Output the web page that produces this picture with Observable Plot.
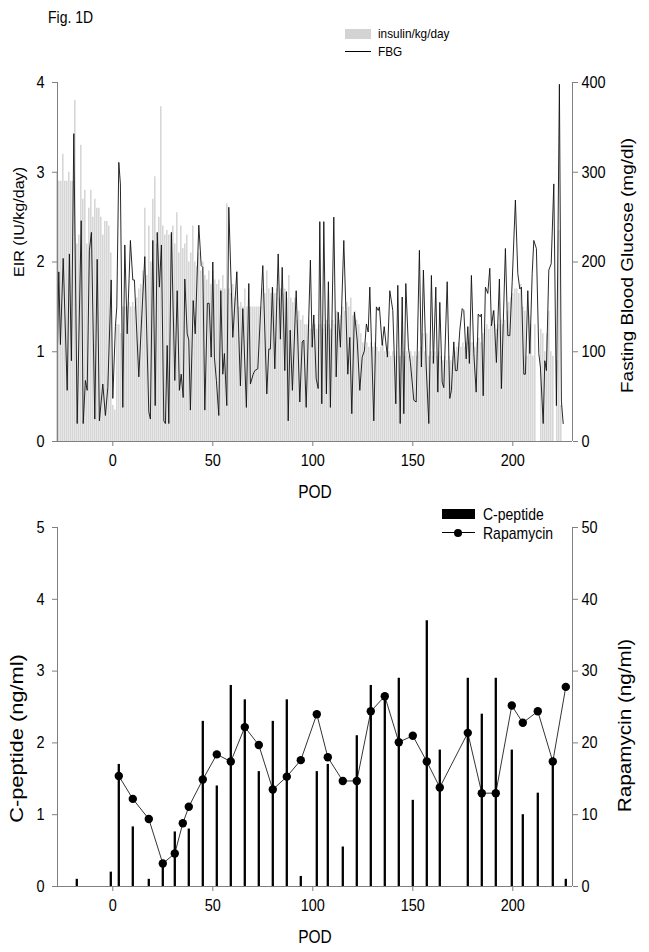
<!DOCTYPE html>
<html>
<head>
<meta charset="utf-8">
<script src="https://cdn.jsdelivr.net/npm/d3@7"></script>
<script src="https://cdn.jsdelivr.net/npm/@observablehq/plot@0.6"></script>
<style>
  body { margin: 0; background: #fff; font-family: "Liberation Sans", Arial, sans-serif; }
  #wrap { position: relative; width: 649px; height: 952px; overflow: hidden; }
  #wrap svg { display: block; }
  .t { position: absolute; white-space: nowrap; color: #000; line-height: 1; transform-origin: left center; transform: translateY(-50%) scaleY(1.15); }
  .sw { position: absolute; }
</style>
</head>
<body>
<div id="wrap">
  <div id="topPanel"></div>
  <div id="bottomPanel"></div>
  <div class="t" style="left:48px;top:17px;font-size:14px;">Fig. 1D</div>
  <div class="sw" style="left:345px;top:29px;width:26px;height:10px;background:#d3d3d3;"></div>
  <div class="t" style="left:378px;top:34px;font-size:11.8px;">insulin/kg/day</div>
  <div class="sw" style="left:345px;top:51px;width:26px;height:1px;background:#000;"></div>
  <div class="t" style="left:378px;top:52px;font-size:11.8px;">FBG</div>
  <div class="sw" style="left:442px;top:509px;width:33px;height:10px;background:#000;"></div>
  <div class="t" style="left:483px;top:514px;font-size:14px;">C-peptide</div>
  <div class="sw" style="left:442px;top:532px;width:33px;height:1px;background:#000;"></div>
  <div class="sw" style="left:454px;top:528.5px;width:8px;height:8px;border-radius:50%;background:#000;"></div>
  <div class="t" style="left:483px;top:533px;font-size:14px;">Rapamycin</div>
</div>
<script>
// ---------- Top panel data ----------
const insulinFirstDay = -28;
const insulinPre = [3.0, 2.9, 2.9, 3.2, 2.9, 2.9, 3.0, 2.9, 2.9, 3.8, 2.2, 2.3, 3.3, 2.7, 2.8, 2.2, 2.6, 2.8, 2.5, 2.7, 2.6, 2.6, 2.5, 2.3, 2.45, 2.45, 2.4, 2.1];
const insulinEarly = [0.4, 0.35, 1.3, 1.3, 1.2, 1.5, 1.5, 1.5, 1.55, 1.5,
  1.55, 1.5, 1.6, 1.7, 1.75, 1.9, 2.6, 1.85, 2.4, 2.0,
  2.7, 2.95, 2.2, 2.5, 3.73, 2.4, 2.3, 2.35, 2.3, 2.3,
  2.4, 2.2, 2.55, 2.1, 2.4, 2.15, 2.2, 2.3, 2.0, 2.1,
  2.4, 2.0, 1.95, 2.1, 1.9, 2.0, 1.85, 1.8, 1.9, 1.75,
  1.9, 1.8, 1.75, 1.8, 1.7, 1.85, 1.7, 2.65, 1.7, 1.65,
  1.75, 1.6, 1.9, 1.5, 1.55, 1.5, 1.7, 1.5, 1.5, 1.5,
  1.5, 1.5, 1.5, 1.5, 1.5];
const insulinMid = [1.7, 1.65, 1.9, 1.7, 1.65, 1.7, 1.65, 1.7, 1.6, 1.7, 1.65, 1.7, 1.6, 1.85, 1.6,
  1.55, 1.6, 1.35, 1.45, 1.35, 1.4, 1.3,
  1.3, 1.35, 1.25, 1.3, 1.3, 1.25, 1.3, 1.3, 1.25, 1.3, 1.35, 1.3, 1.25,
  1.35, 1.3, 1.45, 1.35, 1.4, 1.5, 1.45, 1.55, 1.5, 1.6, 1.4, 1.45, 1.35, 1.3, 1.2,
  1.1, 1.05, 1.1, 1.05, 1.1, 1.05, 1.1, 1.05, 1.0, 1.05, 1.1, 1.0];
const insulinLate = [0.95, 1.0, 0.95, 1.0, 0.95, 1.0, 0.95, 0.95, 1.0, 0.95,
  1.0, 0.95, 1.0, 0.95, 1.0, 0.95, 1.0, 1.05, 1.2, 1.0,
  1.2, 0.95, 1.0, 0.95, 1.0, 0.95, 1.0, 0.95, 0.9, 0.95,
  0.9, 0.95, 0.9,
  0.95, 1.0, 1.05, 1.1, 1.05, 1.1, 1.05, 1.1, 1.05, 1.1, 1.1, 1.05, 1.1, 1.15, 1.1, 1.2,
  1.25, 1.3, 1.25, 1.3, 1.45, 1.3, 1.25, 1.3, 1.35, 1.3, 1.35, 1.45,
  1.55, 1.6, 1.65, 1.7, 1.7, 1.65, 1.75,
  1.5, 1.45, 0.95, 1.4, 1.3, 0.95, 1.3, 0, 0, 1.25, 1.2, 1.0, 1.2, 1.45, 1.0, 0.95, 0, 0.9, 2.35, 0.4];

// FBG (mg/dl): [POD, value]
const fbgPoints = [
[-27.6,110],[-27,189],[-26.2,108],[-24.8,204],[-22.8,57],[-21.7,209],[-20.7,90],[-19.5,343],[-17.8,20],[-15.8,246],[-14.8,20],[-13.7,68],[-12.8,57],[-11.7,213],[-10.7,233],[-9,25],[-7.8,203],[-6.7,23],[-5,64],[-3.7,29],[-2.5,60],[-0.8,180],[0,48],[1.3,128],[2,150],[3,311],[3.8,287],[5,38],[6,219],[7.2,120],[8.8,224],[10,180],[10.8,180],[13,72],[14.5,140],[16,206],[18,33],[18.8,25],[20,224],[21.2,40],[22.2,233],[23.3,172],[24.3,219],[25.5,23],[26.3,20],[27.2,107],[28,20],[29.3,233],[31,68],[32.2,168],[33.3,57],[34.2,75],[35.2,49],[36,181],[37.2,120],[38,113],[38.8,35],[40.2,157],[41.2,120],[43,241],[44.2,196],[45,194],[46,35],[47.3,154],[48.2,154],[49.2,94],[50,200],[50.8,94],[51.8,68],[53,29],[54,168],[55,75],[55.8,98],[57,40],[58,261],[60,116],[62,189],[63.8,62],[65,148],[66.8,38],[68,176],[68.8,64],[70.2,75],[71,79],[72.5,81],[75,196],[77,53],[78,103],[78.8,103],[79.8,172],[81,81],[82.7,209],[83.8,114],[84.7,194],[86,79],[86.8,167],[87.7,23],[88.7,124],[89.8,57],[91.7,168],[93.5,44],[94.7,111],[95.5,113],[96.7,38],[98.8,202],[99.7,105],[100.5,141],[101.7,70],[102.7,59],[103.5,245],[104.5,42],[105.5,245],[106.8,53],[107.8,178],[108.8,38],[110.5,250],[111.7,72],[112.7,144],[113.8,105],[115.5,224],[117.5,75],[118.5,116],[119.5,31],[120.8,144],[122.2,113],[123.5,57],[124.7,94],[125.8,101],[126.8,131],[127.7,122],[128.5,172],[130.5,23],[131.8,150],[132.7,146],[133.3,150],[134.7,107],[135.7,128],[137.3,94],[138.5,168],[140,146],[141.5,42],[142.5,174],[143.7,20],[144.7,161],[145.5,31],[146.5,176],[147.8,105],[148.8,88],[150.5,46],[151.7,44],[153.3,213],[154.3,83],[155.3,191],[156.7,83],[158,20],[159.3,185],[160.3,87],[161.5,172],[162.5,55],[163.5,155],[164.7,66],[165.5,60],[167.2,178],[168.5,48],[169.3,57],[170.5,111],[171.3,79],[172.2,79],[173.5,124],[174.7,148],[175.5,146],[176.7,92],[177.5,128],[178.3,87],[179.3,185],[180.5,98],[181.7,55],[182.7,142],[183.7,139],[184.3,142],[185.2,51],[186.3,172],[187.5,165],[188.5,193],[189.3,129],[190.5,146],[191.8,88],[193.3,181],[194.3,59],[196.3,215],[197.5,118],[198.5,118],[199.7,178],[201.3,269],[202.5,187],[203.5,170],[204.3,172],[205.5,75],[206.3,75],[207.5,168],[208.5,98],[209.7,187],[210.5,224],[211.8,215],[213,98],[213.8,83],[215.2,20],[216,90],[216.8,79],[218,191],[219.2,198],[220.5,287],[221.8,40],[223.3,398],[224.3,45],[225.2,20]
];

// ---------- Bottom panel data ----------
const cpepDays = [-18, -1, 3, 10, 18, 25, 31, 38, 45, 52, 59, 66, 73, 80, 87, 94, 102, 107.5, 115, 122, 129, 136, 143, 150, 157, 163.5, 177.5, 184.5, 191.5, 199.5, 205, 212.5, 220, 226.5];
const cpepValues = [0.1, 0.2, 1.7, 0.83, 0.1, 0.3, 0.76, 0.8, 2.3, 1.4, 2.8, 2.6, 1.6, 2.3, 2.6, 0.14, 1.6, 1.7, 0.55, 2.1, 2.8, 2.65, 2.9, 1.2, 3.7, 1.9, 2.9, 2.4, 2.9, 1.9, 1.0, 1.3, 1.75, 0.1];
const rapaDays = [3, 10, 18, 25, 31, 35, 38, 45, 52, 59, 66, 73, 80, 87, 94, 102, 107.5, 115, 122, 129, 136, 143, 150, 157, 163.5, 177.5, 184.5, 191.5, 199.5, 205, 212.5, 220, 226.5];
const rapaValues = [15.4, 12.2, 9.4, 3.2, 4.6, 8.8, 11.1, 14.9, 18.4, 17.4, 22.2, 19.7, 13.5, 15.3, 17.6, 24.0, 18.0, 14.7, 14.7, 24.4, 26.5, 20.1, 21.0, 17.4, 13.8, 21.4, 13.0, 13.0, 25.2, 22.8, 24.4, 17.4, 27.8];

const xTicks = [0, 50, 100, 150, 200];
const eirTicks = [0, 1, 2, 3, 4];
const cpepTicks = [0, 1, 2, 3, 4, 5];
const xDomain = [-27.65, 229.85];

// ---------- build tables ----------
const insulinValues = [...insulinPre, ...insulinEarly, ...insulinMid, ...insulinLate];
const insulin = insulinValues.map((v, i) => ({day: insulinFirstDay + i, v})).filter(d => d.v > 0);
const fbg = fbgPoints.map(([day, v]) => ({day, v}));
const cpep = cpepDays.map((day, i) => ({day, v: cpepValues[i]}));
const rapa = rapaDays.map((day, i) => ({day, v: rapaValues[i]}));

const AX = "#808080";
const FONT = "'Liberation Sans', Arial, sans-serif";
const TICKFS = 14.5;
const STRETCH = 1.15;

function axes(yTicks, rightFactor) {
  return [
    Plot.axisY({anchor: "left", ticks: yTicks, tickFormat: d => String(d), tickSize: 5, tickPadding: 8, label: null, stroke: AX, fontSize: TICKFS}),
    Plot.axisY({anchor: "right", ticks: yTicks, tickFormat: d => String(d * rightFactor), tickSize: 5, tickPadding: 4, label: null, stroke: AX, fontSize: TICKFS}),
    Plot.axisX({ticks: xTicks, tickFormat: d => String(d), tickSize: 5, tickPadding: 8, label: null, stroke: AX, fontSize: TICKFS})
  ];
}

function stretchText(svg) {
  svg.querySelectorAll("text").forEach(t => {
    const tr = t.getAttribute("transform");
    if (!tr) return;
    t.setAttribute("transform", tr + (tr.includes("rotate") ? ` scale(${STRETCH},1)` : ` scale(1,${STRETCH})`));
  });
}

const topChart = Plot.plot({
  width: 649, height: 510,
  marginLeft: 57, marginRight: 77, marginTop: 82, marginBottom: 69,
  style: {fontFamily: FONT, fontSize: "15px", color: "#000", background: "transparent"},
  x: {domain: xDomain, axis: null},
  y: {domain: [0, 4], axis: null},
  marks: [
    Plot.ruleX(insulin, {x: "day", y1: 0, y2: "v", stroke: "#d4d4d4", strokeWidth: 1.5}),
    Plot.line(fbg, {x: "day", y: d => d.v / 100, stroke: "#111", strokeWidth: 0.9}),
    Plot.ruleX([xDomain[0]], {y1: 0, y2: 4, stroke: AX}),
    Plot.ruleX([xDomain[1]], {y1: 0, y2: 4, stroke: AX}),
    Plot.ruleY([0], {stroke: AX}),
    ...axes(eirTicks, 100),
    Plot.text(["EIR (IU/kg/day)"], {frameAnchor: "left", dx: -38, dy: -40, rotate: -90, fontSize: 14, textAnchor: "middle", lineAnchor: "middle"}),
    Plot.text(["Fasting Blood Glucose (mg/dl)"], {frameAnchor: "right", dx: 55.5, dy: 3.5, rotate: -90, fontSize: 16.5, textAnchor: "middle", lineAnchor: "middle"}),
    Plot.text(["POD"], {frameAnchor: "bottom", dy: 51, fontSize: 15.5, textAnchor: "middle", lineAnchor: "middle"})
  ]
});
stretchText(topChart);
document.getElementById("topPanel").append(topChart);

const bottomChart = Plot.plot({
  width: 649, height: 442,
  marginLeft: 57, marginRight: 77, marginTop: 17, marginBottom: 66,
  style: {fontFamily: FONT, fontSize: "15px", color: "#000", background: "transparent"},
  x: {domain: xDomain, axis: null},
  y: {domain: [0, 5], axis: null},
  marks: [
    Plot.ruleX(cpep, {x: "day", y1: 0, y2: "v", stroke: "#000", strokeWidth: 2.3}),
    Plot.line(rapa, {x: "day", y: d => d.v / 10, stroke: "#000", strokeWidth: 0.8}),
    Plot.dot(rapa, {x: "day", y: d => d.v / 10, r: 4.2, fill: "#000"}),
    Plot.ruleX([xDomain[0]], {y1: 0, y2: 5, stroke: AX}),
    Plot.ruleX([xDomain[1]], {y1: 0, y2: 5, stroke: AX}),
    Plot.ruleY([0], {stroke: AX}),
    ...axes(cpepTicks, 10),
    Plot.text(["C-peptide (ng/ml)"], {frameAnchor: "left", dx: -41, dy: 31.5, rotate: -90, fontSize: 19, textAnchor: "middle", lineAnchor: "middle"}),
    Plot.text(["Rapamycin (ng/ml)"], {frameAnchor: "right", dx: 52.5, dy: 18.5, rotate: -90, fontSize: 18, textAnchor: "middle", lineAnchor: "middle"}),
    Plot.text(["POD"], {frameAnchor: "bottom", dy: 51, fontSize: 15.5, textAnchor: "middle", lineAnchor: "middle"})
  ]
});
stretchText(bottomChart);
document.getElementById("bottomPanel").append(bottomChart);
</script>
</body>
</html>
